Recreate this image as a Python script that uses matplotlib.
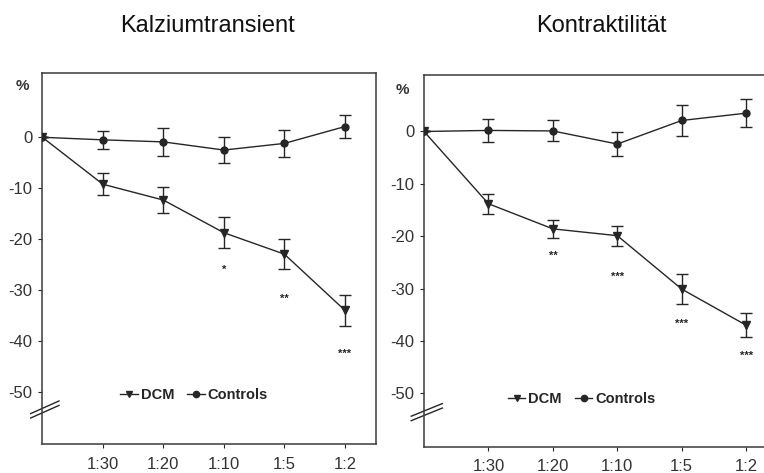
import numpy as np
import matplotlib
matplotlib.use("Agg")
from matplotlib import pyplot as plt
from matplotlib.lines import Line2D

plt.rcParams['font.family'] = ['Liberation Sans', 'DejaVu Sans']
plt.rcParams['axes.unicode_minus'] = False

# dilution steps (0 = baseline)
x = [0, 1, 2, 3, 4, 5]
xlabels = ["1:30", "1:20", "1:10", "1:5", "1:2"]

# Kalziumtransient, % change
ca_dcm = [0, -9.2, -12.3, -18.7, -22.9, -33.9]
ca_dcm_err = [0, 2.2, 2.6, 3.0, 3.0, 3.0]
ca_ctrl = [0, -0.5, -0.9, -2.5, -1.2, 2.1]
ca_ctrl_err = [0, 1.8, 2.7, 2.6, 2.7, 2.2]
ca_stars = [(3, -25.9, "*"), (4, -31.6, "**"), (5, -42.4, "***")]

# Kontraktilitaet, % change
ko_dcm = [0, -13.8, -18.6, -19.9, -30.1, -37.0]
ko_dcm_err = [0, 1.9, 1.7, 1.9, 2.8, 2.3]
ko_ctrl = [0, 0.2, 0.1, -2.4, 2.1, 3.5]
ko_ctrl_err = [0, 2.2, 2.0, 2.3, 2.9, 2.7]
ko_stars = [(2, -23.8, "**"), (3, -27.8, "***"), (4, -36.8, "***"), (5, -42.9, "***")]

ink = "#262626"

fig = plt.figure(figsize=(7.64, 4.73), dpi=100)
ax1 = fig.add_axes([0.0554, 0.0613, 0.4364, 0.7844])
ax2 = fig.add_axes([0.555, 0.0556, 0.479, 0.786])


def panel(ax, dcm, dcm_err, ctrl, ctrl_err, stars, ylim, xlim, leg_xy, pct_xy):
    ax.errorbar(x, ctrl, yerr=ctrl_err, color=ink, lw=1.0, marker='o', ms=5,
                capsize=4, elinewidth=1.0, capthick=1.0, zorder=3)
    ax.errorbar(x, dcm, yerr=dcm_err, color=ink, lw=1.0, marker='v', ms=6,
                capsize=4, elinewidth=1.0, capthick=1.0, zorder=3)
    for sx, sy, s in stars:
        ax.text(sx, sy, s, ha='center', va='center', fontsize=8,
                fontweight='bold', color=ink)
    ax.set_ylim(*ylim)
    ax.set_xlim(*xlim)
    ax.set_yticks([0, -10, -20, -30, -40, -50])
    ax.set_xticks(x[1:])
    ax.set_xticklabels(xlabels)
    ax.tick_params(length=3, width=0.8, color=ink, labelcolor="#333333",
                   labelsize=12, pad=4)
    ax.tick_params(axis='x', pad=6)
    for sp in ax.spines.values():
        sp.set_color("#3a3a3a")
        sp.set_linewidth(1.1)
    handles = [Line2D([], [], color=ink, lw=1.0, marker='v', ms=5),
               Line2D([], [], color=ink, lw=1.0, marker='o', ms=4.5)]
    ax.legend(handles, ["DCM", "Controls"], ncol=2, frameon=False, loc='center',
              bbox_to_anchor=leg_xy, handlelength=1.2, handletextpad=0.2,
              columnspacing=0.9, prop={'weight': 'bold', 'size': 10.5},
              labelcolor=ink)
    ax.text(*pct_xy, "%", transform=ax.transAxes, ha='center', va='center',
            fontsize=11, fontweight='bold', color="#333333")
    # axis break mark
    bx = np.array([-0.035, 0.05])
    for off in (0.0, 0.012):
        by = np.array([0.07, 0.104]) + off
        ax.plot(bx, by, transform=ax.transAxes, color=ink, lw=1.0,
                clip_on=False)


panel(ax1, ca_dcm, ca_dcm_err, ca_ctrl, ca_ctrl_err, ca_stars,
      (-60.1, 12.6), (0, 5.51), (0.455, 0.132), (-0.06, 0.965))
panel(ax2, ko_dcm, ko_dcm_err, ko_ctrl, ko_ctrl_err, ko_stars,
      (-60.2, 10.8), (0, 5.68), (0.431, 0.1275), (-0.06, 0.96))

fig.text(207 / 764, 1 - 31.5 / 473, "Kalziumtransient", ha='center',
         va='baseline', fontsize=17, color="#111111")
fig.text(601 / 764, 1 - 31.5 / 473, "Kontraktilität", ha='center',
         va='baseline', fontsize=17, color="#111111")

fig.savefig("out.png", dpi=100)
